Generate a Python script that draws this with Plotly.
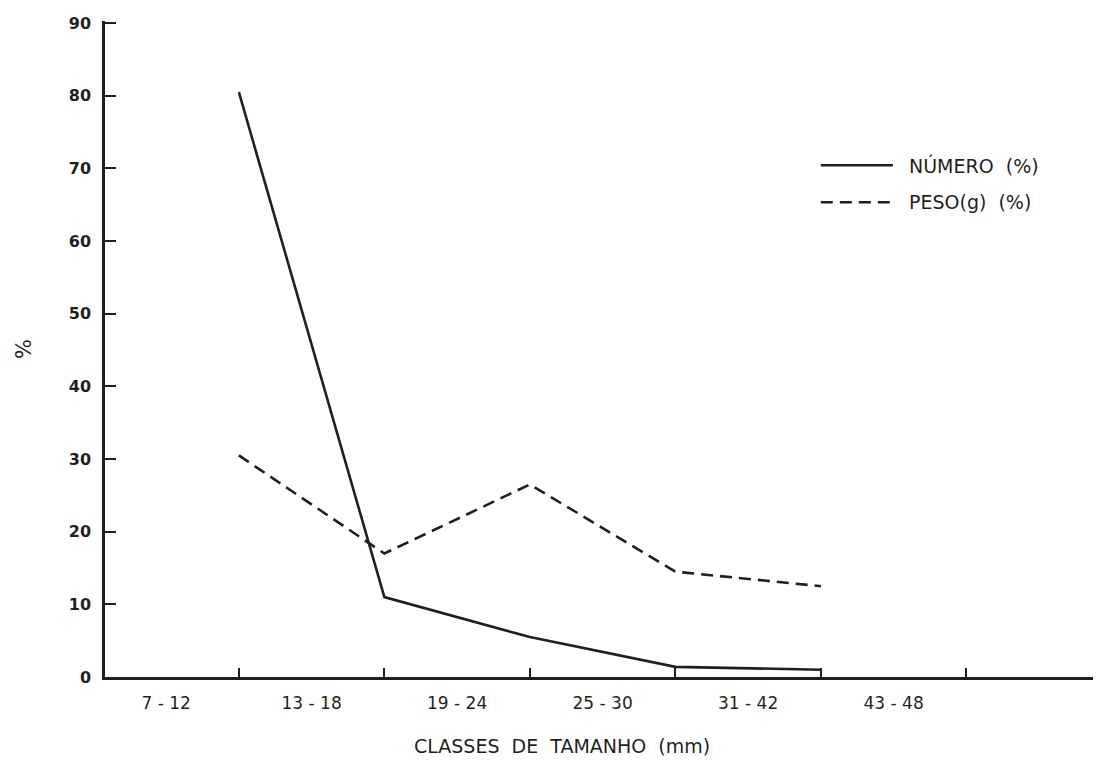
import plotly.graph_objects as go

# Data
classes = ["7 - 12", "13 - 18", "19 - 24", "25 - 30", "31 - 42", "43 - 48"]
numero_pct = [80.5, 11.0, 5.5, 1.4, 1.0]
peso_pct = [30.5, 17.0, 26.5, 14.5, 12.5]
y_ticks = [0, 10, 20, 30, 40, 50, 60, 70, 80, 90]

# class boundary positions (points are plotted at the class boundaries)
bounds = list(range(1, len(classes) + 1))
label_pos = [b - 0.5 for b in bounds]
pt_x = bounds[:len(numero_pct)]

ink = "#1f1f1f"
bg = "#ffffff"

fig = go.Figure()
fig.add_trace(go.Scatter(x=pt_x, y=numero_pct, mode="lines",
                         line=dict(color=ink, width=2.6), name="NÚMERO (%)",
                         showlegend=False))
fig.add_trace(go.Scatter(x=pt_x, y=peso_pct, mode="lines",
                         line=dict(color=ink, width=2.6, dash="12px,7px"),
                         name="PESO(g) (%)", showlegend=False))

fig.update_layout(
    width=1085, height=757,
    margin=dict(l=97, r=0, t=13, b=88),
    paper_bgcolor=bg, plot_bgcolor=bg,
    showlegend=False,
    xaxis=dict(range=[0.08, 6.87], showgrid=False, zeroline=False,
               showline=True, linecolor=ink, linewidth=2.5,
               tickvals=label_pos, ticktext=classes, ticks="",
               tickfont=dict(family="DejaVu Sans", size=17, color=ink),
               ticklabelstandoff=9,
               minor=dict(tickvals=bounds, ticks="inside", ticklen=9,
                          tickwidth=2, tickcolor=ink)),
    yaxis=dict(range=[0, 90.3], showgrid=False, zeroline=False,
               showline=True, linecolor=ink, linewidth=2.5,
               tickvals=y_ticks, ticks="inside", ticklen=11, tickwidth=2.2,
               tickcolor=ink, ticklabelstandoff=8,
               tickfont=dict(family="DejaVu Sans", size=16, color=ink,
                             weight="bold")),
)

# y-axis title "%"
fig.add_annotation(xref="paper", yref="paper", x=-0.082, y=0.5,
                   xanchor="center", text="%", showarrow=False, textangle=-90,
                   font=dict(family="DejaVu Sans", size=21, color=ink))
# x-axis title
fig.add_annotation(xref="paper", yref="paper", x=0.463, y=-0.105,
                   xanchor="center", yanchor="middle",
                   text="CLASSES  DE  TAMANHO  (mm)", showarrow=False,
                   font=dict(family="DejaVu Sans", size=19, color=ink))

# manual legend
leg = [("NÚMERO  (%)", "solid", 0.7802), ("PESO(g)  (%)", "12px,7px", 0.7237)]
for text, dash, yy in leg:
    fig.add_shape(type="line", xref="paper", yref="paper",
                  x0=0.7245, x1=0.7975, y0=yy, y1=yy,
                  line=dict(color=ink, width=2.4, dash=dash))
    fig.add_annotation(xref="paper", yref="paper", x=0.8115, y=yy,
                       xanchor="left", yanchor="middle", text=text,
                       showarrow=False,
                       font=dict(family="DejaVu Sans", size=19, color=ink))

fig.write_html("out.html")
